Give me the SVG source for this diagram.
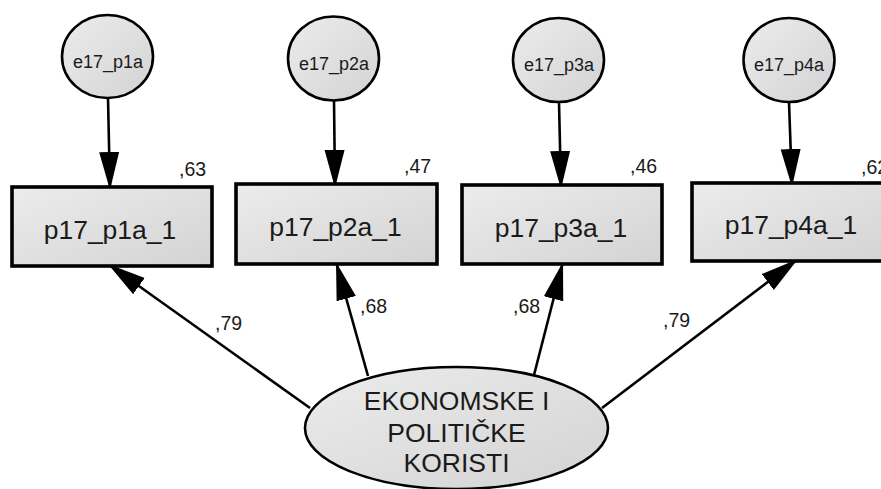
<svg xmlns="http://www.w3.org/2000/svg" width="881" height="489" viewBox="0 0 881 489">
  <defs>
    <linearGradient id="g" x1="0" y1="0" x2="1" y2="1">
      <stop offset="0" stop-color="#ececec"/>
      <stop offset="1" stop-color="#d3d3d3"/>
    </linearGradient>
    <marker id="ah" markerUnits="userSpaceOnUse" markerWidth="40" markerHeight="22" refX="38" refY="10" orient="auto" viewBox="0 0 40 20">
      <path d="M0,0 L38,10 L0,20 z" fill="#000"/>
    </marker>
    <style>
      .node { fill: url(#g); stroke: #000; }
      .circ { stroke-width: 2.6; }
      .box { stroke-width: 3.6; }
      .lat { stroke-width: 2.6; }
      .conn { stroke: #000; stroke-width: 2.6; fill: none; marker-end: url(#ah); }
      text { font-family: "Liberation Sans", Arial, sans-serif; fill: #1a1a1a; }
      .t-err { font-size: 18px; text-anchor: middle; }
      .t-box { font-size: 26.5px; text-anchor: middle; }
      .t-lat { font-size: 26.5px; text-anchor: middle; }
      .t-lbl { font-size: 19.5px; }
    </style>
  </defs>
  <rect width="881" height="489" fill="#fff"/>

  <g id="connectors">
    <line class="conn" x1="108" y1="98" x2="110" y2="190"/>
    <line class="conn" x1="334" y1="100" x2="335" y2="188"/>
    <line class="conn" x1="559" y1="102" x2="561" y2="189"/>
    <line class="conn" x1="789" y1="102" x2="792" y2="187"/>
    <line class="conn" x1="310" y1="408" x2="108" y2="264"/>
    <line class="conn" x1="368" y1="376" x2="336" y2="262"/>
    <line class="conn" x1="534" y1="375" x2="563" y2="262"/>
    <line class="conn" x1="602" y1="408" x2="798" y2="259"/>
    <text class="t-lbl" x="215" y="330">,79</text>
    <text class="t-lbl" x="360" y="313">,68</text>
    <text class="t-lbl" x="513" y="313">,68</text>
    <text class="t-lbl" x="663" y="327">,79</text>
  </g>

  <g id="e17_p1a">
    <ellipse class="node circ" cx="107.5" cy="56.5" rx="45.5" ry="41.5"/>
    <text class="t-err" x="108" y="68">e17_p1a</text>
  </g>
  <g id="e17_p2a">
    <ellipse class="node circ" cx="333.5" cy="58.5" rx="45.5" ry="42"/>
    <text class="t-err" x="334" y="70">e17_p2a</text>
  </g>
  <g id="e17_p3a">
    <ellipse class="node circ" cx="558.5" cy="60" rx="45.5" ry="42"/>
    <text class="t-err" x="559" y="71">e17_p3a</text>
  </g>
  <g id="e17_p4a">
    <ellipse class="node circ" cx="789" cy="60" rx="45.5" ry="42"/>
    <text class="t-err" x="789" y="71">e17_p4a</text>
  </g>

  <g id="p17_p1a_1">
    <rect class="node box" x="12" y="187" width="200" height="79"/>
    <text class="t-box" x="110" y="239">p17_p1a_1</text>
    <text class="t-lbl" x="179" y="176">,63</text>
  </g>
  <g id="p17_p2a_1">
    <rect class="node box" x="236" y="184" width="201" height="80"/>
    <text class="t-box" x="335.5" y="236">p17_p2a_1</text>
    <text class="t-lbl" x="404" y="173">,47</text>
  </g>
  <g id="p17_p3a_1">
    <rect class="node box" x="462" y="185" width="200" height="79"/>
    <text class="t-box" x="561" y="237">p17_p3a_1</text>
    <text class="t-lbl" x="630" y="173">,46</text>
  </g>
  <g id="p17_p4a_1">
    <rect class="node box" x="692" y="183" width="202" height="78"/>
    <text class="t-box" x="791" y="234">p17_p4a_1</text>
    <text class="t-lbl" x="861" y="174">,62</text>
  </g>

  <g id="latent">
    <ellipse class="node lat" cx="456.5" cy="428" rx="151.5" ry="61"/>
    <text class="t-lat" x="456.5" y="410">EKONOMSKE I</text>
    <text class="t-lat" x="456.5" y="442">POLITIČKE</text>
    <text class="t-lat" x="456.5" y="472">KORISTI</text>
  </g>
</svg>
